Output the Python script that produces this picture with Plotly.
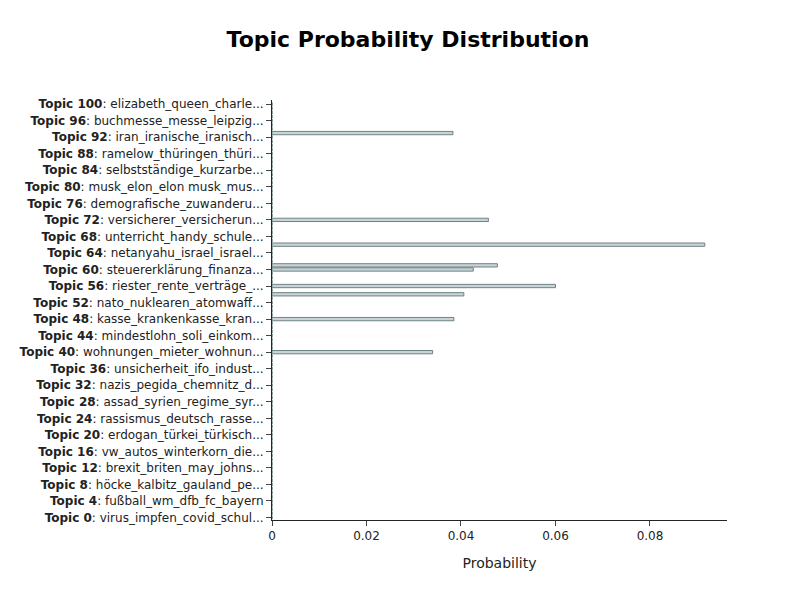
import plotly.graph_objects as go

topic_ids = list(range(0, 101))
bar_topics = [93, 72, 66, 61, 60, 56, 54, 48, 40]
bar_values = [0.0383, 0.0458, 0.0916, 0.0477, 0.0426, 0.0600, 0.0406, 0.0385, 0.0340]
tick_topics = [0, 4, 8, 12, 16, 20, 24, 28, 32, 36, 40, 44, 48, 52, 56, 60, 64, 68, 72, 76, 80, 84, 88, 92, 96, 100]
tick_names = ["virus_impfen_covid_schul...", "fußball_wm_dfb_fc_bayern", "höcke_kalbitz_gauland_pe...",
              "brexit_briten_may_johns...", "vw_autos_winterkorn_die...", "erdogan_türkei_türkisch...",
              "rassismus_deutsch_rasse...", "assad_syrien_regime_syr...", "nazis_pegida_chemnitz_d...",
              "unsicherheit_ifo_indust...", "wohnungen_mieter_wohnun...", "mindestlohn_soli_einkom...",
              "kasse_krankenkasse_kran...", "nato_nuklearen_atomwaff...", "riester_rente_verträge_...",
              "steuererklärung_finanza...", "netanyahu_israel_israel...", "unterricht_handy_schule...",
              "versicherer_versicherun...", "demografische_zuwanderu...", "musk_elon_elon musk_mus...",
              "selbstständige_kurzarbe...", "ramelow_thüringen_thüri...", "iran_iranische_iranisch...",
              "buchmesse_messe_leipzig...", "elizabeth_queen_charle..."]

vals = {t: v for t, v in zip(bar_topics, bar_values)}
x = [vals.get(t, 0) for t in topic_ids]

fig = go.Figure(go.Bar(
    x=x, y=topic_ids, orientation="h", width=0.8,
    marker=dict(color="#C8D2D7", line=dict(color="#6E8484", width=1)),
))
fig.update_layout(
    width=800, height=600, template="simple_white",
    font=dict(family="DejaVu Sans", size=12, color="#222"),
    title=dict(text="<b>Topic Probability Distribution</b>", x=0.5, xanchor="center", y=0.96,
               font=dict(size=22, color="black")),
    margin=dict(l=264, r=81, t=92, b=88),
    xaxis=dict(title=dict(text="Probability"), showline=True, ticks="outside",
               tickvals=[0, 0.02, 0.04, 0.06, 0.08], ticktext=["0", "0.02", "0.04", "0.06", "0.08"],
               range=[0, 0.0963]),
    yaxis=dict(tickvals=tick_topics,
               ticktext=[f"<b>Topic {t}</b>: {n}" for t, n in zip(tick_topics, tick_names)],
               range=[-0.6, 101], showline=True, ticks="outside"),
    showlegend=False,
)
fig.write_html("out.html")
